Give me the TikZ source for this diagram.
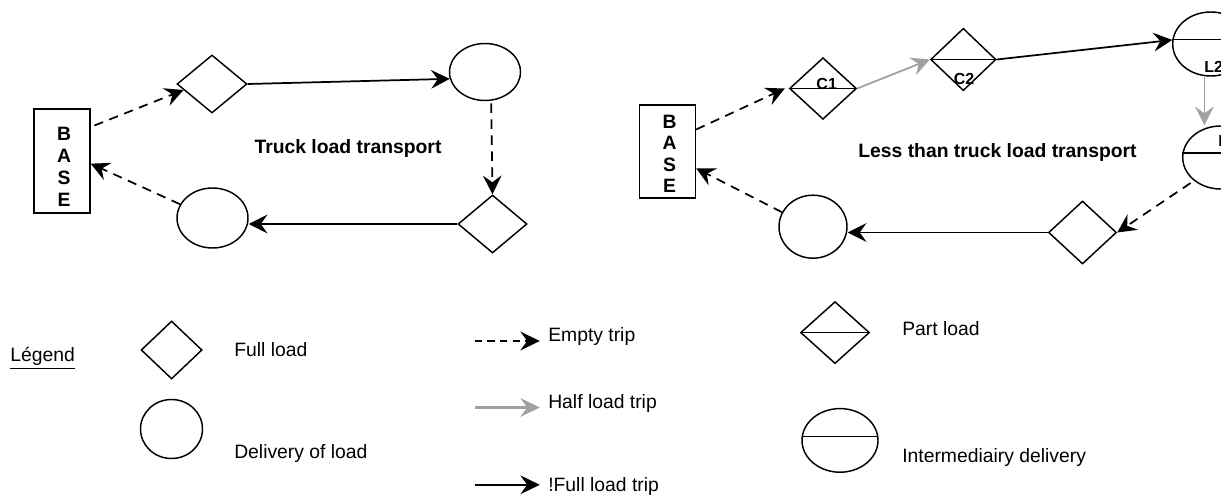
\documentclass[tikz,border=0pt]{standalone}
\usepackage{fontspec}
\setmainfont{Liberation Sans}
\usetikzlibrary{shapes.geometric, arrows.meta}
\definecolor{halfgray}{RGB}{160,160,160}

\begin{document}
\begin{tikzpicture}[x = 0.75pt, y = -0.75pt,
	every node/.style = {inner sep = 0pt, font = \fontsize{14.5}{16.5}\selectfont},
	base/.style = {draw, line width = 1pt, minimum width = 42pt, minimum height = #1},
	basetext/.style = {align = center, font = \bfseries\fontsize{14.5}{#1}\selectfont},
	load/.style 2 args = {shape = diamond, draw, line width = 1.1pt, minimum width = #1, minimum height = #2},
	delivery/.style 2 args = {shape = ellipse, draw, line width = 1.1pt, minimum width = #1, minimum height = #2},
	trip/.style = {-{Stealth[length = 14pt, width = 14pt, inset = 5pt]}, line width = 1.3pt},
	emptytrip/.style = {trip, dash pattern = on 7pt off 5pt},
	halftrip/.style = {trip, halfgray},
	fulltrip/.style = {trip},
	legtrip/.style = {-{Stealth[length = 14.5pt, width = 14pt, inset = 5pt]}, line width = 1.6pt},
	title/.style = {font = \bfseries\fontsize{14.5}{16.5}\selectfont, anchor = base},
	tag/.style = {font = \bfseries\fontsize{12}{14}\selectfont},
	legtext/.style = {anchor = base west}]
	\useasboundingbox (0,0) rectangle (1221,495);
	\clip (0,0) rectangle (1221,495);

	\node [base = 78pt] (base1) at (62,161) {};
	\node [basetext = 16.5pt] (base1txt) at (64,167) {B\\A\\S\\E};
	\node [load = {52.5pt}{43.5pt}] (fl1) at (212,84) {};
	\node [delivery = {53.25pt}{42.75pt}] (dl1) at (485,72) {};
	\node [load = {51.75pt}{43.5pt}] (fl2) at (492.5,224) {};
	\node [delivery = {53.25pt}{45pt}] (dl2) at (212.5,218) {};
	\node [title] (tlt) at (348,153.5) {Truck load transport};
	\draw [emptytrip, shorten <= 3pt] ([yshift = 25.5pt]base1.east) -- (fl1.192);
	\draw [fulltrip] (fl1.east) -- (dl1.191);
	\draw [emptytrip, shorten <= 2pt] (dl1.282) -- (fl2.north);
	\draw [fulltrip] (fl2.west) -- (fl2.west -| dl2.east);
	\draw [emptytrip] (dl2.157) -- ([yshift = -2pt]base1.east);

	\node [base = 69.75pt] (base2) at (667.5,151.5) {};
	\node [basetext = 16pt] (base2txt) at (669.5,154) {B\\A\\S\\E};
	\node [load = {50.25pt}{46.2pt}] (c1) at (823,88.5) {};
	\node [load = {49pt}{46.8pt}] (c2) at (963.3,59.5) {};
	\node [delivery = {57pt}{48pt}] (l2) at (1210.7,44) {};
	\node [delivery = {57pt}{47.25pt}] (l1) at (1220.7,157.5) {};
	\node [load = {51pt}{47.25pt}] (fl3) at (1082.5,232.5) {};
	\node [delivery = {51pt}{47.25pt}] (dl3) at (813,226.7) {};
	\draw [line width = 1.1pt] (c1.west) -- (c1.east);
	\draw [line width = 1.1pt] (c2.west) -- (c2.east);
	\draw [line width = 1.1pt] (l2.173) -- (l2.7);
	\draw [line width = 1.1pt] (l1.173) -- (l1.7);
	\node [tag] (c1tag) at (826.7,84) {C1};
	\node [tag] (c2tag) at (964,79) {C2};
	\node [tag] (l2tag) at (1213.6,67.2) {L2};
	\node [tag] (l1tag) at (1227.6,140.8) {L1};
	\node [title] (ltlt) at (997.5,157.5) {Less than truck load transport};
	\draw [emptytrip] ([yshift = 16.5pt]base2.east) -- ([xshift = -3pt]c1.west);
	\draw [halftrip] (c1.east) -- (c2.west);
	\draw [fulltrip] (c2.east) -- (l2.174);
	\draw [halftrip] (l2.259) -- (l2.259 |- l1.north);
	\draw [emptytrip, shorten <= 3pt] (l1.221) -- (fl3.east);
	\draw [fulltrip] (fl3.west) -- (fl3.west -| dl3.east);
	\draw [emptytrip] (dl3.155) -- ([yshift = -12.6pt]base2.east);

	\node [legtext] (leg) at (10,362) {\underline{Légend}};
	\node [load = {45.75pt}{43.5pt}] (lfl) at (171.6,350) {};
	\node [legtext] (lfltxt) at (234,357) {Full load};
	\node [delivery = {46.5pt}{44.25pt}] (ldl) at (171.5,429) {};
	\node [legtext] (ldltxt) at (234,458) {Delivery of load};
	\coordinate (e1) at (474.6,341);
	\coordinate (e2) at (539.8,341);
	\coordinate (h1) at (474.6,407.5);
	\coordinate (h2) at (539.8,407.5);
	\coordinate (f1) at (474.6,484.8);
	\coordinate (f2) at (539.8,484.8);
	\draw [legtrip, line width = 2pt, dash pattern = on 5.5pt off 4pt] (e1) -- (e2);
	\draw [legtrip, halfgray] (h1) -- (h2);
	\draw [legtrip] (f1) -- (f2);
	\node [legtext] (etxt) at (548,342) {Empty trip};
	\node [legtext] (htxt) at (548,408) {Half load trip};
	\node [legtext] (ftxt) at (548,491.5) {!Full load trip};
	\node [load = {51.75pt}{46.5pt}] (lpl) at (835,332.6) {};
	\draw [line width = 1.1pt] (lpl.west) -- (lpl.east);
	\node [legtext] (lpltxt) at (902,335) {Part load};
	\node [delivery = {57pt}{47.7pt}] (lid) at (840,440.4) {};
	\draw [line width = 1.1pt] (lid.174) -- (lid.6);
	\node [legtext] (lidtxt) at (902,462.2) {Intermediairy delivery};
\end{tikzpicture}
\end{document}
